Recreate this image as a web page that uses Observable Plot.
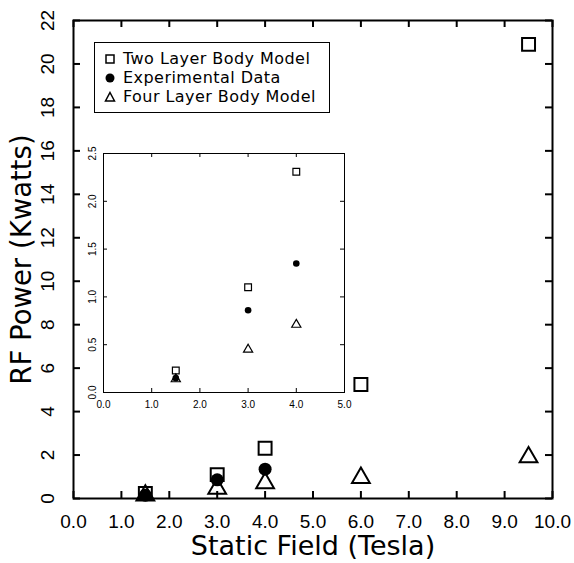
<!DOCTYPE html>
<html>
<head>
<meta charset="utf-8">
<script src="https://cdn.jsdelivr.net/npm/d3@7"></script>
<script src="https://cdn.jsdelivr.net/npm/@observablehq/plot@0.6"></script>
<style>
  html, body { margin: 0; padding: 0; background: white; }
  #wrap { position: relative; width: 574px; height: 563px; }
  #inset { position: absolute; left: 80px; top: 140px; }
  #legend { position: absolute; left: 94px; top: 42px; width: 236px; height: 71px; box-sizing: border-box;
            border: 1.5px solid black; font-family: "DejaVu Sans", sans-serif; font-size: 16px; letter-spacing: 0.45px; }
  .row { position: absolute; left: 0; height: 18px; line-height: 18px; white-space: nowrap; }
  .row svg { position: absolute; left: 9px; top: 3px; }
  .row span { position: absolute; left: 28px; top: 0; }
</style>
</head>
<body>
<div id="wrap"></div>
<script>
// ---- data ----
const fields = [1.5, 3.0, 4.0, 6.0, 9.5];
const twoLayer = [0.23, 1.10, 2.31, 5.25, 20.9];
const expFields = [1.5, 3.0, 4.0];
const experimental = [0.15, 0.86, 1.35];
const fourLayer = [0.14, 0.45, 0.71, 0.95, 1.9];

const xTicks = [0, 1, 2, 3, 4, 5, 6, 7, 8, 9, 10];
const yTicks = [0, 2, 4, 6, 8, 10, 12, 14, 16, 18, 20, 22];
const insetXTicks = [0, 1, 2, 3, 4, 5];
const insetYTicks = [0, 0.5, 1.0, 1.5, 2.0, 2.5];

const xTitle = "Static Field (Tesla)";
const yTitle = "RF Power (Kwatts)";
const legendLabels = ["Two Layer Body Model", "Experimental Data", "Four Layer Body Model"];

// ---- tables ----
const twoRows = fields.map((f, i) => ({x: f, y: twoLayer[i]}));
const expRows = expFields.map((f, i) => ({x: f, y: experimental[i]}));
const fourRows = fields.map((f, i) => ({x: f, y: fourLayer[i]}));
const inTwo = twoRows.filter(d => d.x <= 5);
const inExp = expRows.filter(d => d.x <= 5);
const inFour = fourRows.filter(d => d.x <= 5);

const wrap = document.getElementById("wrap");

// inward ticks on all four sides of a frame; tick length given in pixels,
// converted to data units through the frame size
function inwardTicks(xt, yt, xd, yd, fw, fh, len, sw) {
  const dy = len * (yd[1] - yd[0]) / fh;
  const dx = len * (xd[1] - xd[0]) / fw;
  const o = {stroke: "black", strokeWidth: sw};
  return [
    Plot.ruleX(xt, {x: d => d, y1: () => yd[0], y2: () => yd[0] + dy, ...o}),
    Plot.ruleX(xt, {x: d => d, y1: () => yd[1], y2: () => yd[1] - dy, ...o}),
    Plot.ruleY(yt, {y: d => d, x1: () => xd[0], x2: () => xd[0] + dx, ...o}),
    Plot.ruleY(yt, {y: d => d, x1: () => xd[1], x2: () => xd[1] - dx, ...o})
  ];
}

const MW = 574, MH = 563, ML = 73, MR = 22, MT = 20, MB = 65;
const mainX = [0, 10], mainY = [0, 22];
const main = Plot.plot({
  width: MW, height: MH,
  marginLeft: ML, marginRight: MR, marginTop: MT, marginBottom: MB,
  style: {fontFamily: "'Liberation Sans', Arial, sans-serif", fontSize: "19px", color: "black", background: "white"},
  x: {domain: mainX},
  y: {domain: mainY},
  marks: [
    ...inwardTicks(xTicks, yTicks, mainX, mainY, MW - ML - MR, MH - MT - MB, 7, 2),
    Plot.axisX(xTicks, {anchor: "bottom", tickSize: 0, tickPadding: 16, tickFormat: d => d.toFixed(1), label: null}),
    Plot.axisY(yTicks, {anchor: "left", tickSize: 0, tickPadding: 20, tickRotate: -90, tickFormat: d => String(d), label: null}),
    Plot.frame({strokeWidth: 2}),
    Plot.dot(twoRows, {x: "x", y: "y", symbol: "square", r: 7.3, stroke: "black", strokeWidth: 2, fill: "none"}),
    Plot.dot(fourRows, {x: "x", y: "y", symbol: "triangle", r: 6.6, stroke: "black", strokeWidth: 2, fill: "none"}),
    Plot.dot(expRows, {x: "x", y: "y", symbol: "circle", r: 6.5, fill: "black", stroke: "none"}),
    Plot.text([xTitle], {text: d => d, frameAnchor: "bottom", lineAnchor: "middle", textAnchor: "middle", dy: 48, fontSize: 27, fontFamily: "DejaVu Sans"}),
    Plot.text([yTitle], {text: d => d, frameAnchor: "left", textAnchor: "middle", lineAnchor: "middle", dx: -51, rotate: -90, fontSize: 27.5, fontFamily: "DejaVu Sans"})
  ]
});
wrap.appendChild(main);

const IW = 280, IH = 275, IL = 23, IR = 16, IT = 13, IB = 23;
const inX = [0, 5], inY = [0, 2.5];
const inset = Plot.plot({
  width: IW, height: IH,
  marginLeft: IL, marginTop: IT, marginRight: IR, marginBottom: IB,
  style: {fontFamily: "'Liberation Sans', Arial, sans-serif", fontSize: "10px", color: "black", background: "transparent"},
  x: {domain: inX},
  y: {domain: inY},
  marks: [
    ...inwardTicks(insetXTicks, insetYTicks, inX, inY, IW - IL - IR, IH - IT - IB, 4, 1),
    Plot.axisX(insetXTicks, {anchor: "bottom", tickSize: 0, tickPadding: 8, tickFormat: d => d.toFixed(1), label: null}),
    Plot.axisY(insetYTicks, {anchor: "left", tickSize: 0, tickPadding: 8, tickRotate: -90, tickFormat: d => d.toFixed(1), label: null}),
    Plot.frame({strokeWidth: 1}),
    Plot.dot(inTwo, {x: "x", y: "y", symbol: "square", r: 3.8, stroke: "black", strokeWidth: 1.2, fill: "none"}),
    Plot.dot(inFour, {x: "x", y: "y", symbol: "triangle", r: 3.4, stroke: "black", strokeWidth: 1.2, fill: "none"}),
    Plot.dot(inExp, {x: "x", y: "y", symbol: "circle", r: 3.3, fill: "black", stroke: "none"})
  ]
});
inset.id = "inset";
wrap.appendChild(inset);

// ---- legend ----
const legend = document.createElement("div");
legend.id = "legend";
const symbols = [
  '<rect x="2" y="2" width="8" height="8" fill="none" stroke="black" stroke-width="1.5"/>',
  '<circle cx="6" cy="6" r="4.5" fill="black"/>',
  '<path d="M6,1.5 L10.5,10 L1.5,10 Z" fill="none" stroke="black" stroke-width="1.5"/>'
];
const rowTops = [7, 26, 45];
legendLabels.forEach((lab, i) => {
  const row = document.createElement("div");
  row.className = "row";
  row.style.top = rowTops[i] + "px";
  row.innerHTML = `<svg width="12" height="12">${symbols[i]}</svg><span>${lab}</span>`;
  legend.appendChild(row);
});
wrap.appendChild(legend);
</script>
</body>
</html>
